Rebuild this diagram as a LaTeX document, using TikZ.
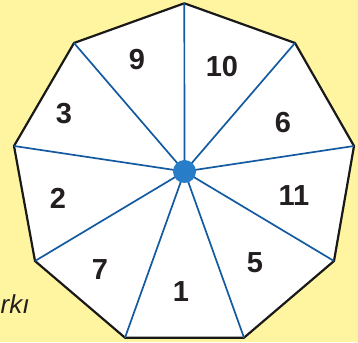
\documentclass[tikz,border=0pt]{standalone}
\usepackage{fontspec}
\setmainfont{Liberation Sans}
\definecolor{bgyellow}{RGB}{255,245,160}
\definecolor{spoke}{RGB}{20,90,160}
\definecolor{hub}{RGB}{40,125,200}
\definecolor{numcol}{RGB}{35,31,32}
\begin{document}
\begin{tikzpicture}[x=1pt,y=1pt,
  num/.style={font=\fontsize{29}{29}\selectfont\bfseries, text=numcol, inner sep=0pt},
  spokeline/.style={draw=spoke, line width=1.7pt},
  rim/.style={draw=black!90, line width=2.2pt, line join=round, fill=white}]
\fill[bgyellow] (0,0) rectangle (358,342);
\useasboundingbox (0,0) rectangle (358,342);
% vertices (y measured upward)
\coordinate (v0) at (184.3,338.7);
\coordinate (v1) at (295,299);
\coordinate (v2) at (354,196);
\coordinate (v3) at (334,81);
\coordinate (v4) at (244,4.3);
\coordinate (v5) at (125,4.3);
\coordinate (v6) at (35,81);
\coordinate (v7) at (14,196);
\coordinate (v8) at (74,299);
\coordinate (c) at (184.5,170.5);
\path[rim] (v0) -- (v1) -- (v2) -- (v3) -- (v4) -- (v5) -- (v6) -- (v7) -- (v8) -- cycle;
\foreach \v in {v0,v1,v2,v3,v4,v5,v6,v7,v8} \draw[spokeline] (c) -- (\v);
\node[circle, fill=hub, minimum size=23pt, inner sep=0pt] (hubdot) at (c) {};
\node[num] (n9) at (137,282) {9};
\node[num] (n10) at (222,275) {10};
\node[num] (n6) at (283,219) {6};
\node[num] (n3) at (64,228) {3};
\node[num] (n11) at (294,146) {11};
\node[num] (n2) at (58,144) {2};
\node[num] (n5) at (255,79) {5};
\node[num] (n7) at (100,72) {7};
\node[num] (n1) at (181,50) {1};
\node[anchor=base west, inner sep=0pt, font=\fontsize{26}{26}\selectfont\itshape, text=numcol] (tail) at (0.5,28) {rkı};
\end{tikzpicture}
\end{document}
